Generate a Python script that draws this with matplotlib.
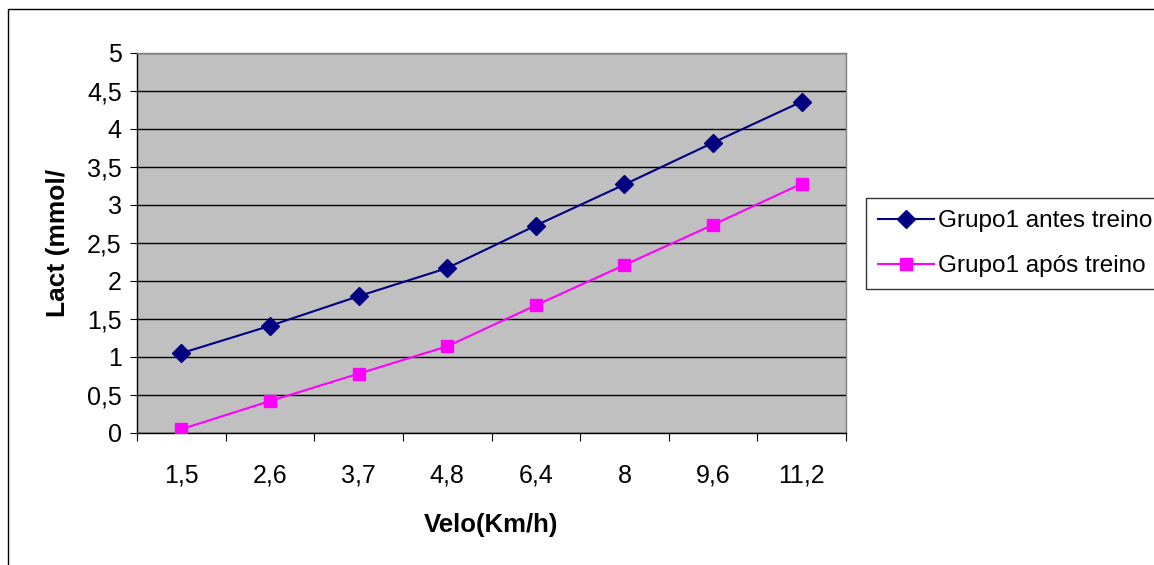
import matplotlib
matplotlib.use("Agg")
import matplotlib.pyplot as plt
from matplotlib.patches import Rectangle
import numpy as np

categories = ["1,5", "2,6", "3,7", "4,8", "6,4", "8", "9,6", "11,2"]
antes = [1.05, 1.41, 1.80, 2.17, 2.73, 3.27, 3.82, 4.36]
apos = [0.05, 0.42, 0.78, 1.14, 1.68, 2.21, 2.74, 3.28]
yticks = [0, 0.5, 1, 1.5, 2, 2.5, 3, 3.5, 4, 4.5, 5]
ytick_labels = ["0", "0,5", "1", "1,5", "2", "2,5", "3", "3,5", "4", "4,5", "5"]

plt.rcParams['font.family'] = ['Liberation Sans', 'DejaVu Sans']

W, H = 1154, 565
fig = plt.figure(figsize=(W / 100, H / 100), dpi=100)
fig.patch.set_facecolor('white')

# outer chart border
fig.patches.append(Rectangle((8 / W, -0.05), 1.1, 1 - 9 / H + 0.05, transform=fig.transFigure,
                             fill=False, edgecolor='black', linewidth=1.0, zorder=0))

left, right, top, bottom = 137, 846, 53, 433
ax = fig.add_axes([left / W, 1 - bottom / H, (right - left) / W, (bottom - top) / H])
ax.set_facecolor('#C0C0C0')

x = np.arange(len(categories))
ax.plot(x, antes, color='#000080', marker='D', markersize=9, linewidth=1.5,
        label='Grupo1 antes treino', zorder=3)
ax.plot(x, apos, color='#FF00FF', marker='s', markersize=9, linewidth=1.5,
        label='Grupo1 após treino', zorder=3)

ax.set_xlim(-0.5, len(categories) - 0.5)
ax.set_ylim(0, 5)
ax.set_yticks(yticks)
ax.set_yticklabels(ytick_labels, fontsize=18)
ax.yaxis.grid(True, color='black', linewidth=1)
ax.set_axisbelow(True)

ax.set_xticks(np.arange(-0.5, len(categories), 1.0))
ax.set_xticklabels([])
ax.set_xticks(x, minor=True)
ax.set_xticklabels(categories, minor=True, fontsize=18)
ax.tick_params(axis='x', which='minor', length=0, pad=22)
ax.tick_params(axis='x', which='major', length=6, color='black')
ax.tick_params(axis='y', length=5, pad=6)

for s in ['top', 'right']:
    ax.spines[s].set_color('#808080')
    ax.spines[s].set_linewidth(1.0)
for s in ['left', 'bottom']:
    ax.spines[s].set_color('black')
    ax.spines[s].set_linewidth(1.0)

ax.set_xlabel('Velo(Km/h)', fontsize=18.5, fontweight='bold', labelpad=18)
ax.set_ylabel('Lact (mmol/', fontsize=19, fontweight='bold', labelpad=12)

leg = fig.legend(loc='upper left', bbox_to_anchor=(866 / W, 1 - 198 / H), fontsize=17.5,
                 frameon=True, fancybox=False, edgecolor='black', handlelength=2.3,
                 handletextpad=0.15, borderpad=0.5, labelspacing=0.95, borderaxespad=0)
leg.get_frame().set_linewidth(1.0)

fig.savefig('out.png', dpi=100)
